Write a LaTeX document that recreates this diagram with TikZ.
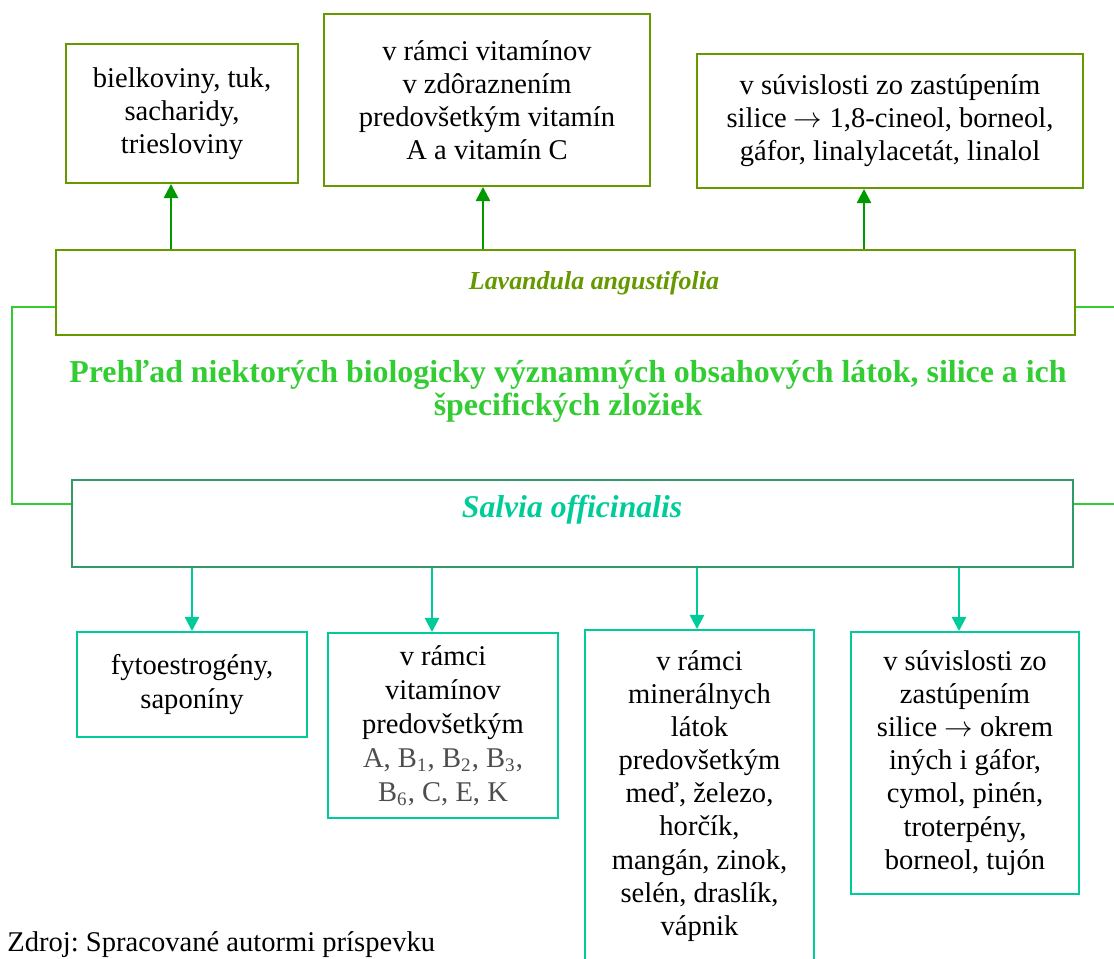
\documentclass[tikz,border=0pt]{standalone}
\usepackage{fontspec}
\setmainfont{Liberation Serif}
\usetikzlibrary{arrows.meta}
\frenchspacing

\definecolor{lavolive}{HTML}{669900}
\definecolor{arrgreen}{HTML}{009900}
\definecolor{linkgreen}{HTML}{33CC33}
\definecolor{salframe}{HTML}{339966}
\definecolor{salteal}{HTML}{00CC99}
\definecolor{greytxt}{HTML}{4D4D4D}

\def\u{0.42pt}
\newcommand{\arr}{\ensuremath{\rightarrow}}

\begin{document}
\begin{tikzpicture}[
  x=\u, y=-\u,
  font=\fontsize{12}{13.9}\selectfont,
  box/.style={draw,line width=0.8pt,align=center,inner sep=0pt},
  sz/.style 2 args={minimum width=#1*\u,minimum height=#2*\u},
  topbox/.style={box,draw=lavolive},
  botbox/.style={box,draw=salteal},
  uparr/.style={draw=arrgreen,line width=1pt,-{Triangle[width=6pt,length=6pt]}},
  downarr/.style={draw=salteal,line width=1pt,-{Triangle[width=6pt,length=6pt]}},
  link/.style={draw=linkgreen,line width=0.8pt},
]
\useasboundingbox (0,0) rectangle (1114,959);

% ---- main boxes ----
\node[box,draw=lavolive,sz={1019}{85}] (lav) at (565.5,292.5) {};
\node[text=lavolive,font=\fontsize{10.9}{13}\selectfont\bfseries\itshape] (lavtxt) at (594,283) {Lavandula angustifolia};

\node[box,draw=salframe,sz={1001}{87}] (sal) at (572.5,523.5) {};
\node[text=salteal,font=\fontsize{13.3}{15}\selectfont\bfseries\itshape] (saltxt) at (572,510) {Salvia officinalis};

\node[text=linkgreen,align=center,font=\fontsize{13.4}{13.9}\selectfont\bfseries] (title) at (568,391)
  {Prehľad niektorých biologicky významných obsahových látok, silice a ich\\ špecifických zložiek};

% ========================= Top: Lavandula =========================
\node[topbox,sz={232}{139}] (t1) at (182,113.5)
  {bielkoviny, tuk,\\ sacharidy,\\ triesloviny};
\node[topbox,sz={326}{172}] (t2) at (487,100)
  {v rámci vitamínov\\ v zdôraznením\\ predovšetkým vitamín\\ A a vitamín C};
\node[topbox,sz={386}{134}] (t3) at (890,121)
  {v súvislosti zo zastúpením\\ silice \arr{} 1,8-cineol, borneol,\\ gáfor, linalylacetát, linalol};

\foreach \bx/\ax in {t1/171,t2/483,t3/864}
  \draw[uparr] (lav.north -| \ax,0) -- (\bx.south -| \ax,0);

% ========================= Bottom: Salvia =========================
\node[botbox,sz={230}{105}] (b1) at (192,684.5)
  {fytoestrogény,\\ saponíny};
\node[botbox,sz={230}{185},font=\fontsize{12}{14.3}\selectfont] (b2) at (443,725.5)
  {v rámci\\ vitamínov\\ predovšetkým\\
   \textcolor{greytxt}{A, B\textsubscript{1}, B\textsubscript{2}, B\textsubscript{3},}\\
   \textcolor{greytxt}{B\textsubscript{6}, C, E, K}};
\node[botbox,sz={229}{332}] (b3) at (699.5,796)
  {v rámci\\ minerálnych\\ látok\\ predovšetkým\\ meď, železo,\\ horčík,\\ mangán, zinok,\\ selén, draslík,\\ vápnik};
\node[botbox,sz={228}{262}] (b4) at (965,763)
  {v súvislosti zo\\ zastúpením\\ silice \arr{} okrem\\ iných i gáfor,\\ cymol, pinén,\\ troterpény,\\ borneol, tujón};

\foreach \bx/\ax in {b1/192,b2/432,b3/697,b4/959}
  \draw[downarr] (sal.south -| \ax,0) -- (\bx.north -| \ax,0);

% ---- side links ----
\coordinate (rtop) at (1125,307);
\coordinate (rbot) at (1125,504);
\draw[link] (lav.west |- 0,307) -| (12,504) -- (sal.west |- 0,504);
\draw[link] (lav.east |- 0,307) -- (rtop);
\draw[link] (sal.east |- 0,504) -- (rbot);

\node[anchor=base west] (src) at (-1,951) {Zdroj: Spracované autormi príspevku};

\end{tikzpicture}
\end{document}
